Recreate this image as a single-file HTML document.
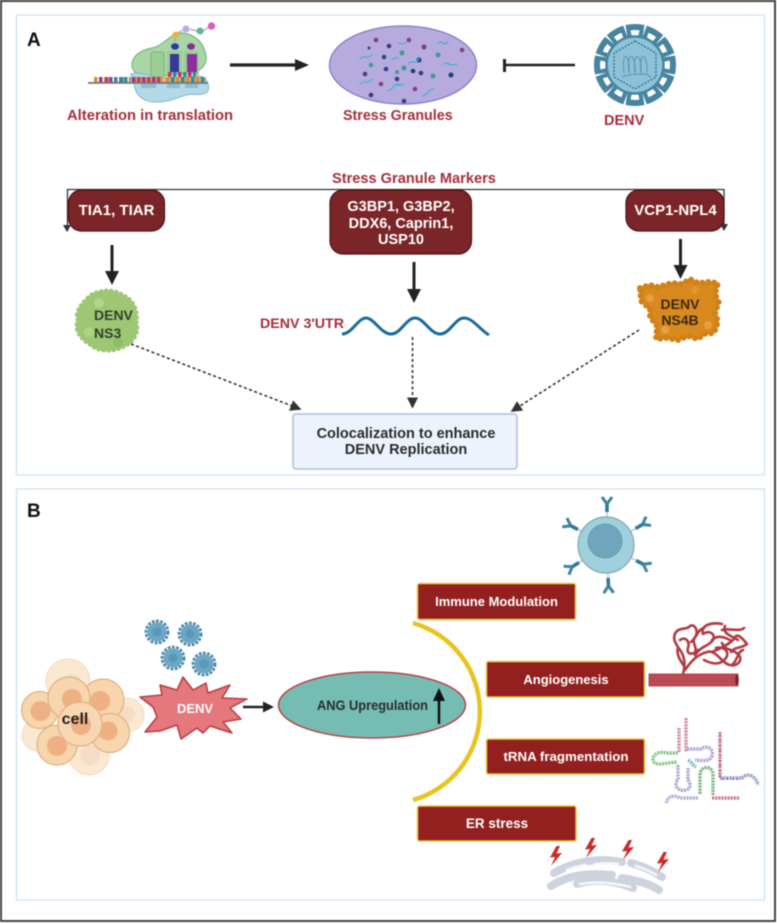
<!DOCTYPE html>
<html><head><meta charset="utf-8"><style>
html,body{margin:0;padding:0;background:#fff}
svg{display:block;filter:blur(.4px)}
text{font-family:"Liberation Sans",sans-serif;font-weight:bold}
.r{fill:#a5303a}.d{fill:#2b2b2b}
</style></head><body>
<svg width="777" height="924" viewBox="0 0 777 924" xmlns="http://www.w3.org/2000/svg">
<defs>
<marker id="ah" markerWidth="8" markerHeight="8" refX="6" refY="3.5" orient="auto"><path d="M0 0L7 3.5L0 7z" fill="#333"/></marker>
<g id="sp"><path d="M-9.500 -40Q0 -42 9.500 -40L7.500 -28L3 -28L4.500 -34.500Q0 -35.500 -4.500 -34.500L-3 -28L-7.500 -28z" fill="#47849f"/></g>
<g id="ab"><path d="M0 -33V-42" stroke="#2f7a9e" stroke-width="3.600" fill="none"/><path d="M0 -41L-5 -48M0 -41L5 -48" stroke="#3f82a3" stroke-width="3" fill="none"/><path d="M0 -27V-33" stroke="#c6d3d8" stroke-width="2"/></g>
<g id="v"><circle r="9.500" fill="#6ba6c4"/><circle r="11" fill="none" stroke="#4d88a8" stroke-width="2.800" stroke-dasharray="2.800 1.400"/><circle r="4.500" fill="#5a97b8"/></g>
<g id="bolt"><path d="M1.500 -10L-5 1.500L0 1L-4 10L7 -3L1.500 -2.500L5 -10z" fill="#cc2a2a"/></g>
</defs>
<rect width="777" height="924" fill="#fff"/>
<rect x="1" y="1" width="774" height="920" fill="none" stroke="#444" stroke-width="2"/>
<rect x="16.500" y="15" width="748" height="460" fill="#fff" stroke="#d3e6f6" stroke-width="1.500"/>
<rect x="16.500" y="489" width="748" height="411" fill="#fff" stroke="#d3e6f6" stroke-width="1.500"/>
<text x="27" y="46" font-size="19" fill="#111">A</text>
<text x="27" y="517" font-size="19" fill="#111">B</text>

<!-- ribosome -->
<path d="M132 63C134 54 142 50 152 48C164 46 170 33 182 33C194 34 203 42 205 52C209 62 203 70 192 73L150 77C138 76 131 72 132 63z" fill="#a9d6a6" stroke="#7cb77f" stroke-width="1.200"/>
<path d="M131 74C138 71 150 76 170 78L198 76C206 76 210 84 208 91C204 97 194 93 186 95C176 98 170 102 158 102C146 103 137 97 135 88z" fill="#b3d8e8" stroke="#80b6cf" stroke-width="1"/>
<rect x="141" y="82" width="15" height="6" fill="#8fbdd2"/><rect x="167" y="82" width="13" height="6" fill="#8fbdd2"/><rect x="185" y="82" width="13" height="6" fill="#8fbdd2"/>
<rect x="151" y="52" width="13" height="25" rx="2" fill="#9ccd97" stroke="#7cb77f"/>
<rect x="167" y="51" width="15" height="24" fill="#9ccd97"/><rect x="184" y="51" width="15" height="24" fill="#9ccd97"/>
<rect x="170" y="54" width="9" height="18" fill="#35389c"/><rect x="187" y="54" width="10" height="18" fill="#8a2f9c"/>
<ellipse cx="175" cy="46.500" rx="4" ry="3.200" fill="#2e3a9e"/><ellipse cx="191" cy="46.500" rx="4" ry="3.200" fill="#8b2d94"/>
<path d="M175 42V36M176 33L184 30M190 29L197 31M203 31L209 27" stroke="#aaa" stroke-width="1.200"/>
<circle cx="175.500" cy="35" r="3.300" fill="#eeb13e"/><circle cx="186" cy="29" r="3.500" fill="#c0a9e0"/><circle cx="200" cy="31" r="3.500" fill="#62b3a4"/><circle cx="211.500" cy="26" r="3.700" fill="#de5fb8"/>
<rect x="88" y="82" width="120" height="1.800" fill="#777"/>
<g stroke-width="5" fill="none">
<path d="M94 79.500H120" stroke="#e08a2c" stroke-dasharray="3.500 1.500"/><path d="M99 79.500H125" stroke="#8d3ca0" stroke-dasharray="3.500 6.500"/>
<path d="M105 79.500H135" stroke="#c8385a" stroke-dasharray="3.500 11.500"/><path d="M114 79.500H130" stroke="#2a8e9a" stroke-dasharray="3.500 1.500"/>
<path d="M130 79.500H206" stroke="#e6a24a" stroke-dasharray="3.500 1.500"/>
<path d="M132 79.500H160" stroke="#8d3ca0" stroke-dasharray="3.500 6.500"/><path d="M137 79.500H165" stroke="#c8385a" stroke-dasharray="3.500 6.500"/>
<path d="M166 79.500H206" stroke="#e08a2c" stroke-dasharray="3.500 6.500"/><path d="M171 79.500H206" stroke="#2a8e9a" stroke-dasharray="3.500 6.500"/>
<path d="M168 74.500H196" stroke="#c8385a" stroke-dasharray="3.500 6.500"/><path d="M173 74.500H196" stroke="#2a8e9a" stroke-dasharray="3.500 6.500"/>
</g>
<text x="67" y="120" font-size="14.800" class="r">Alteration in translation</text>
<path d="M230 65H296" stroke="#222" stroke-width="3.200"/><path d="M295 59L309 65L295 71z" fill="#222"/>

<!-- granule -->
<ellipse cx="403" cy="65" rx="73.500" ry="39" fill="#b7abde" stroke="#8f82cb" stroke-width="1.500"/>
<g fill="#3c3b83">
<circle cx="376" cy="40" r="2.300" fill="#7d3d83"/><circle cx="389" cy="46" r="2.300"/><circle cx="369" cy="48" r="1.500" fill="#1f4f78"/><circle cx="384" cy="57" r="2.300" fill="#1f4f78"/><circle cx="371" cy="65" r="2.300" fill="#3f9a93"/><circle cx="386" cy="69" r="2.300"/><circle cx="365" cy="74" r="2.300" fill="#4e3a86"/><circle cx="397" cy="72" r="2" fill="#3f9a93"/><circle cx="397" cy="79" r="2.300"/><circle cx="381" cy="84" r="2.300" fill="#8b3d88"/><circle cx="371" cy="95" r="2.300"/>
<circle cx="409" cy="40" r="2.300" fill="#8b3d88"/><circle cx="424" cy="47" r="2.500" fill="#7d3d83"/><circle cx="462" cy="50" r="2.300" fill="#8b3d88"/><circle cx="438" cy="55" r="2.500" fill="#3f9a93"/><circle cx="419" cy="60" r="2.500" fill="#1f3f78"/><circle cx="404" cy="68" r="2.500" fill="#3f9a93"/><circle cx="413" cy="71" r="2.300" fill="#1f3f78"/><circle cx="421" cy="73" r="2.300"/><circle cx="433" cy="76" r="2.500" fill="#3f9a93"/><circle cx="451" cy="75" r="2.500" fill="#1f3f78"/><circle cx="415" cy="89" r="2.300" fill="#8b3d88"/><circle cx="404" cy="101" r="2.300"/><circle cx="402" cy="53" r="2.500" fill="#3f9a93"/>
</g>
<g fill="none" stroke="#3fb1dc" stroke-width="1.300" stroke-linecap="round">
<path d="M360 59q3-3 6-2t6-3"/><path d="M392 60q3-3 6-2"/><path d="M360 84q3-3 6-2t6-3"/><path d="M388 91q3-1 5-4t6-3"/><path d="M438 43q3-2 5 0t5-1"/><path d="M408 64q3-3 5-2t6-3"/><path d="M444 64q3-2 5 0t8 0"/><path d="M423 96q3-1 5-4t6-3"/><path d="M399 43q3 2 8-1"/><path d="M396 85q3 1 7-1"/>
</g>
<text x="343" y="120" font-size="14.300" class="r">Stress Granules</text>
<path d="M505 65H575" stroke="#222" stroke-width="2.400"/><path d="M504.500 59V72" stroke="#222" stroke-width="3"/>

<!-- big virus -->
<g transform="translate(635,65)">
<use href="#sp"/><use href="#sp" transform="rotate(30)"/><use href="#sp" transform="rotate(60)"/><use href="#sp" transform="rotate(90)"/><use href="#sp" transform="rotate(120)"/><use href="#sp" transform="rotate(150)"/><use href="#sp" transform="rotate(180)"/><use href="#sp" transform="rotate(210)"/><use href="#sp" transform="rotate(240)"/><use href="#sp" transform="rotate(270)"/><use href="#sp" transform="rotate(300)"/><use href="#sp" transform="rotate(330)"/>
<circle r="28.500" fill="#8ec3d9" stroke="#47849f" stroke-width="2.500"/>
<path d="M0 -24L21 -12V12L0 24L-21 12V-12z" fill="#8cc1d8" stroke="#2f6d8f" stroke-width="1.300" stroke-dasharray="2 1.500"/>
<path d="M-13 12C-8 10 -3 9 10 9C13 10 18 12 14 12M-11 8C-14 -14 -5 -14 -6 8C-9 -14 1 -14 0 8C-3 -14 7 -14 6 8C3 -14 13 -14 12 8" fill="none" stroke="#5d93ab" stroke-width="1"/>
</g>
<text x="604" y="125" font-size="14.500" class="r">DENV</text>

<!-- markers -->
<text x="332" y="183" font-size="14.600" class="r">Stress Granule Markers</text>
<path d="M67.500 231V189.500H724V228" fill="none" stroke="#333" stroke-width="1.300"/>
<rect x="68.500" y="190" width="96" height="41" rx="13" fill="#7b2528" stroke="#4c1316" stroke-width="1.200"/>
<path d="M63 225L71 225L67 232z" fill="#333"/><path d="M720 224L728 224L724 231z" fill="#333"/>
<text x="116.500" y="215" font-size="15" fill="#fff" text-anchor="middle">TIA1, TIAR</text>
<rect x="330" y="190" width="141.500" height="64" rx="13" fill="#7b2528" stroke="#4c1316" stroke-width="1.200"/>
<text x="401" y="211" font-size="14.500" fill="#fff" text-anchor="middle">G3BP1, G3BP2,</text>
<text x="401" y="228" font-size="14.500" fill="#fff" text-anchor="middle">DDX6, Caprin1,</text>
<text x="401" y="244" font-size="14.500" fill="#fff" text-anchor="middle">USP10</text>
<rect x="626" y="190" width="98" height="41" rx="13" fill="#7b2528" stroke="#4c1316" stroke-width="1.200"/>
<text x="675.500" y="215" font-size="15" fill="#fff" text-anchor="middle">VCP1-NPL4</text>

<path d="M112 245V272" stroke="#222" stroke-width="3"/><path d="M105 271H119L112 285z" fill="#222"/>
<path d="M414 262V290" stroke="#222" stroke-width="3"/><path d="M407 289H421L414 303z" fill="#222"/>
<path d="M680.500 239V266" stroke="#222" stroke-width="3"/><path d="M673.500 265H687.500L680.500 279z" fill="#222"/>

<!-- NS3 -->
<path d="M88 298C94 291 112 288 122 295C134 300 138 312 136 322C139 332 134 342 124 346C114 352 98 352 90 344C82 340 74 330 78 320C75 312 82 304 88 298z" fill="#9dc774"/>
<path d="M88 298C94 291 112 288 122 295C134 300 138 312 136 322C139 332 134 342 124 346C114 352 98 352 90 344C82 340 74 330 78 320C75 312 82 304 88 298z" fill="none" stroke="#9dc774" stroke-width="5" stroke-linecap="round" stroke-dasharray="0 5"/>
<circle cx="99" cy="303" r="5" fill="#b1d488"/><circle cx="118" cy="342" r="5" fill="#8fbd66"/><circle cx="89" cy="332" r="5" fill="#aed285"/>
<text x="94" y="320" font-size="14" fill="#33402a">DENV</text><text x="94" y="338" font-size="14" fill="#33402a">NS3</text>

<!-- NS4B -->
<path d="M640 288L650 285L658 287L672 283L682 284L690 279L698 283L708 282L718 283L715 294L719 303L715 312L718 322L714 333L704 334L698 339L688 336L678 340L666 338L656 339L657 326L650 317L650 309L641 301z" fill="#d98a1f"/>
<path d="M640 288L650 285L658 287L672 283L682 284L690 279L698 283L708 282L718 283L715 294L719 303L715 312L718 322L714 333L704 334L698 339L688 336L678 340L666 338L656 339L657 326L650 317L650 309L641 301z" fill="none" stroke="#d08118" stroke-width="6" stroke-linecap="round" stroke-linejoin="round" stroke-dasharray="0 6"/>
<circle cx="708" cy="325" r="4" fill="#e5a040"/><circle cx="665" cy="330" r="4" fill="#e5a040"/><circle cx="650" cy="298" r="4" fill="#e5a040"/><circle cx="695" cy="290" r="4" fill="#e09532"/>
<text x="680" y="309" font-size="14" fill="#3b2a10" text-anchor="middle">DENV</text><text x="680" y="325" font-size="14" fill="#3b2a10" text-anchor="middle">NS4B</text>

<text x="260" y="328" font-size="14" class="r" textLength="84" lengthAdjust="spacingAndGlyphs">DENV 3'UTR</text>
<path d="M342 334C352 334 358 318 366 318S381 334 391 334S406 318 415 318S430 334 440 334S455 318 464 318S480 330 489 335" fill="none" stroke="#1b6b9c" stroke-width="3"/>

<g stroke="#333" stroke-width="1.600" stroke-dasharray="3 2.500" fill="none" marker-end="url(#ah)">
<path d="M131 344L300 409"/><path d="M412.500 337V407"/><path d="M639 330L512 411"/>
</g>
<rect x="293" y="414" width="224" height="55" rx="3" fill="#edf3fc" stroke="#a9bfe6" stroke-width="1.500"/>
<text x="406" y="438" font-size="14.500" class="d" text-anchor="middle">Colocalization to enhance</text>
<text x="406" y="454" font-size="14.500" class="d" text-anchor="middle">DENV Replication</text>

<!-- cells -->
<g fill="#fae8d3" stroke="#f1dcc2" stroke-width="1">
<circle cx="68" cy="681" r="22"/><circle cx="127" cy="715" r="17"/><circle cx="89" cy="755" r="20"/><circle cx="38" cy="735" r="16"/>
</g>
<g fill="#f6dcc4"><circle cx="71" cy="684" r="10"/><circle cx="127" cy="714" r="8"/><circle cx="90" cy="755" r="10"/></g>
<g stroke="#dfb285" stroke-width="1.200">
<circle cx="40" cy="710" r="18.500" fill="#f7d5ad"/><circle cx="40.500" cy="711" r="10" fill="#efb183" stroke="none"/>
<circle cx="103" cy="700" r="21" fill="#f7d5ad"/><circle cx="100" cy="701" r="10" fill="#efb183" stroke="none"/>
<circle cx="110" cy="733" r="19.500" fill="#f7d5ad"/><circle cx="108" cy="731" r="9.500" fill="#efb183" stroke="none"/>
<circle cx="69" cy="698" r="21" fill="#f7d5ad"/><circle cx="72" cy="699" r="10" fill="#efb183" stroke="none"/>
<circle cx="57" cy="745" r="20" fill="#f7d5ad"/><circle cx="57" cy="746" r="10" fill="#efb183" stroke="none"/>
<circle cx="80" cy="724" r="22" fill="#f8d8b2"/><circle cx="81" cy="725" r="10" fill="#efb183" stroke="none"/>
</g>
<text x="75" y="724" font-size="16" fill="#222" text-anchor="middle">cell</text>

<use href="#v" x="157" y="632"/><use href="#v" x="190" y="634"/><use href="#v" x="173" y="658"/><use href="#v" x="204" y="664"/>

<polygon points="140,697 162,695 160,685 177,690 183,677 193,690 206,683 208,693 230,685 222,698 247,699 230,708 241,719 223,722 232,733 210,726 203,733 197,728 181,739 177,725 160,731 145,732 157,717 153,707" fill="#e4787d" stroke="#b93c45" stroke-width="1.500" stroke-linejoin="round"/>
<text x="195" y="713" font-size="13" fill="#fff" text-anchor="middle">DENV</text>
<path d="M243 707H264" stroke="#222" stroke-width="2.400"/><path d="M263 701.500L274 707L263 712.500z" fill="#222"/>

<ellipse cx="372" cy="705" rx="93.500" ry="33" fill="#75bdb3" stroke="#b84248" stroke-width="1.500"/>
<text x="317" y="710" font-size="14" class="d" textLength="111" lengthAdjust="spacingAndGlyphs">ANG Upregulation</text>
<path d="M439 697V724" stroke="#111" stroke-width="2.500"/><path d="M433 701L439 688L445 701z" fill="#111"/>

<path d="M413 623A92 92 0 0 1 413 800" fill="none" stroke="#e8c41f" stroke-width="4.500"/>

<g fill="#93201f" stroke="#f0c640" stroke-width="1.500">
<rect x="417.500" y="583.500" width="158" height="36" rx="2"/><rect x="486.500" y="661.500" width="158" height="35.500" rx="2"/><rect x="486.500" y="739" width="158" height="35" rx="2"/><rect x="417.500" y="806" width="158.500" height="35" rx="2"/>
</g>
<g font-size="13" text-anchor="middle" fill="#fff">
<text x="496.500" y="606">Immune Modulation</text><text x="566" y="684">Angiogenesis</text><text x="566" y="761" font-size="13.300">tRNA fragmentation</text><text x="497" y="828" font-size="13.500">ER stress</text>
</g>

<!-- immune cell -->
<use href="#ab" transform="translate(607,545)"/><use href="#ab" transform="translate(607,545) rotate(-62)"/><use href="#ab" transform="translate(607,545) rotate(60)"/><use href="#ab" transform="translate(607,545) rotate(118)"/><use href="#ab" transform="translate(607,545) rotate(-122)"/><use href="#ab" transform="translate(607,545) rotate(178)"/>
<circle cx="606" cy="545" r="28" fill="#a0d0db" stroke="#7fa9b3" stroke-width="1.200"/>
<circle cx="605" cy="541" r="17" fill="#6fa5bd" stroke="#5f95ad" stroke-width=".8"/>

<!-- vessel -->
<g fill="none" stroke="#b03c42" stroke-width="2.600" stroke-linecap="round" stroke-linejoin="round">
<path d="M683 674C686 664 684 655 680 650C675 643 672 638 676 632C680 627 687 630 690 626C695 623 699 632 695 637C691 643 698 648 695 652"/>
<path d="M685 670C692 660 697 655 707 652C716 649 722 664 730 665C737 667 744 660 738 654C731 648 725 651 722 643"/>
<path d="M684 666C680 660 676 654 678 648M695 655C702 645 708 647 713 640C716 633 708 630 703 634C700 625 712 622 722 624"/>
<path d="M712 652C722 648 733 642 736 636C740 634 745 642 747 644C741 649 735 646 731 652M722 630C730 628 740 632 744 628M712 640C718 634 726 638 730 640"/>
<path d="M691 642C698 636 697 630 704 628M732 665C738 660 737 652 743 650"/>
<path d="M680 640C686 636 690 642 688 648C686 654 692 656 698 650M704 660C712 664 720 666 726 658C730 652 724 646 716 648M725 626C722 634 732 636 738 640"/>
</g>
<rect x="649" y="674" width="89" height="12" fill="#bc4a52" stroke="#a73a42" stroke-width=".8"/>
<ellipse cx="737" cy="680" rx="1.800" ry="5.500" fill="#7a2228"/>

<!-- tRNA -->
<g fill="none" stroke-width="3.400" stroke-dasharray="2.200 .9">
<path d="M686 718V752" stroke="#d58aa8"/><path d="M679 728V752" stroke="#d58aa8"/>
<path d="M678 753H666C658 750 650 757 654 762C657 766 665 763 677 762" stroke="#86c48b"/>
<path d="M687 749H701C708 744 714 750 712 756C709 763 700 760 695 760" stroke="#aaa6d6"/>
<path d="M688 760C692 762 692 765 696 767" stroke="#74c0c7"/>
<path d="M678 765V780C672 786 680 792 686 790C692 788 690 783 688 780V768" stroke="#aaa6d6"/>
<path d="M700 794V775C700 765 713 765 713 775V795" stroke="#7dba86"/>
<path d="M698 798H680C672 794 668 797 666 803" stroke="#b2add8"/>
<path d="M712 798H740" stroke="#d07c98"/>
<path d="M720 732V778" stroke="#d07c98"/>
<path d="M720 778H742C748 772 756 776 758 785" stroke="#9a98d1"/>
</g>
<path d="M720 735V776M722 779H742" fill="none" stroke="#333" stroke-width="1.200" stroke-dasharray="1 4"/>

<!-- ER -->
<g fill="none" stroke="#ccd3de" stroke-width="8" stroke-linecap="round">
<path d="M554 873C577 860 600 858 622 862"/><path d="M631 863C642 866 652 870 662 877"/><path d="M551 886C570 874 590 873 612 875"/><path d="M577 884C595 878 615 881 633 888"/><path d="M622 878C635 880 650 884 659 890"/>
</g>
<g fill="none" stroke="#f4f6f9" stroke-width="2.600" stroke-linecap="round">
<path d="M567 870C577 866 583 865 586 865"/><path d="M595 864C605 863 612 863 618 864"/><path d="M636 866C642 868 650 871 656 875"/><path d="M580 884C598 881 615 883 630 887"/>
</g>
<use href="#bolt" x="555" y="856"/><use href="#bolt" x="590" y="848"/><use href="#bolt" x="627" y="850"/><use href="#bolt" x="662" y="862"/>
</svg>
</body></html>
